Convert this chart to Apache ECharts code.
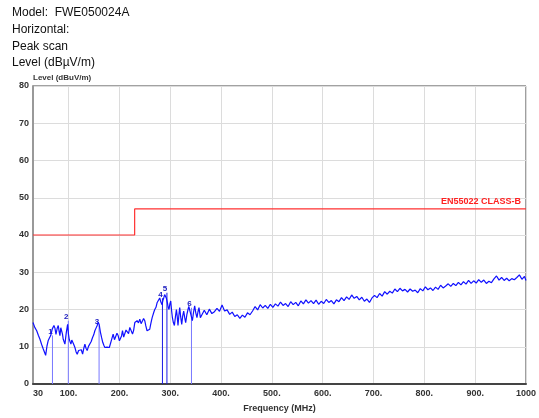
<!DOCTYPE html>
<html><head><meta charset="utf-8">
<script src="https://cdn.jsdelivr.net/npm/echarts@6/dist/echarts.min.js"></script>
<style>html,body{margin:0;padding:0;background:#fff}#c{width:539px;height:418px}</style>
</head><body><div id="c"></div>
<script>
// ---- data ----
const headerLines = ['Model:  FWE050024A', 'Horizontal:', 'Peak scan', 'Level (dBµV/m)'];
const xTickValues = [30, 100, 200, 300, 400, 500, 600, 700, 800, 900, 1000];
const traceFreq = [30,33.5,37.3,40.5,43.7,47,50.2,52.5,54.9,57.5,60,62.5,64.8,68,71.2,73.2,75.2,77.5,79.7,81.3,83,84.7,86.4,88,89.5,91,92.8,95.5,98.1,99.7,101.3,103,104.6,106.3,108,110.2,112.5,114.8,117,119.7,122.3,125,127.6,130,132.1,134.3,136.6,139.2,141.9,144.5,147.2,149.5,151.7,154,156.3,158.3,160.2,162.5,164.9,167.2,169.4,171.4,173.3,175.6,177.9,180.2,182.6,185.2,187.7,190.3,193,195.2,197.5,200,202.2,204.2,206.1,208.4,210.7,213,215.2,218,220.5,223,225.8,228,230.3,232.5,234.8,237.5,240.1,242.7,245.4,247.6,249.9,252,254.4,257,259.7,261.5,263.1,264.6,266.2,268,269.6,272,274.1,277,279.4,281.6,283.9,285.5,287.2,289,290.6,292.5,294.5,296,297.6,299.3,301,302.6,304.3,306.2,308.2,310.2,312.2,313.8,315.3,317,318.7,320.6,322.6,324.5,326.5,328.5,330.4,332.7,335,336.6,338.3,341,343.6,345.8,348.1,350.3,352.6,354.6,356.6,359.3,
362,367,372,377,382,387,392,397,402,407,412,417,422,427,432,437,442,447,452,457,462,467,472,477,482,487,492,497,502,507,512,517,522,527,532,537,542,547,552,557,562,567,572,577,582,587,592,597,602,607,612,617,622,627,632,637,642,647,652,657,662,667,672,677,682,687,692,697,702,707,712,717,722,727,732,737,742,747,752,757,762,767,772,777,782,787,792,797,802,807,812,817,822,827,832,837,842,847,852,857,862,867,872,877,882,887,892,897,902,907,912,917,922,927,932,937,942,947,952,957,962,967,972,977,982,987,992,997,1000];
const traceLevel = [16.5,15.2,14.3,13.1,12,10.6,9.4,8.9,7.7,10.2,11.7,12.4,13,14.8,15.7,15.0,13.3,14.9,15.7,14.2,13,15.1,14.7,13.4,12,11.5,10.7,13.8,16,13.5,12,11.3,10.7,11.8,12,10.6,9.8,8.6,8,9.0,8.5,9.2,8,9.6,10.7,9.6,9,10.1,9.8,11.4,12.5,13.2,14.3,15.0,15.7,16.6,16,14.0,12.5,11.2,10.4,9.8,9.4,9.9,9.4,9.8,10.3,12.2,13.4,11.9,12,13.6,13,11.6,11.2,12.9,14.3,12.6,13,14.5,14.3,13.5,15.2,15.6,13.4,14.4,16.5,16.1,17,16.4,17.4,16.2,16.5,17.6,17,15.6,14.3,14.0,14.7,16.0,17,17.9,18.3,19.4,20,20.6,21.8,21.9,23.1,22.0,21.3,22.4,23.1,24.0,24.5,23.0,21.8,20.6,20,21.5,22.3,19.8,17.8,16.5,15.7,18.0,20,18.1,15.7,18.4,20.5,18.0,16,18.2,19.6,17.8,16.5,18.6,20,20.8,20.5,18.4,17,19.2,21,19.1,17.8,19.4,20.5,17.8,
18.2,19.8,18.6,20.1,18.9,19.4,20.3,19.5,21.2,19.6,19.9,18.7,19.3,18.1,18.6,17.6,18.5,17.9,19.1,18.6,19.6,20.8,19.9,21.3,20.4,21.1,20.3,21.4,20.6,21.5,20.9,22.0,21.1,21.6,20.8,22.1,21.3,21.9,21.0,22.3,21.5,22.6,21.7,22.4,21.6,22.5,21.4,22.2,21.6,22.7,21.9,22.4,21.5,22.6,22.1,23.2,22.4,23.4,22.7,23.9,23.0,23.5,22.6,23.3,22.2,22.8,21.9,23.1,23.8,23.2,24.3,23.6,24.8,24.1,24.9,24.4,25.5,24.8,25.7,25.0,25.4,24.7,25.5,24.9,25.2,24.5,25.6,25.0,26.1,25.3,25.8,25.1,26.0,25.4,26.5,25.8,26.3,26.9,26.2,27.0,26.4,27.3,26.6,27.5,26.8,27.8,27.0,27.7,27.1,28.0,27.3,27.9,27.0,27.6,27.2,28.2,29.0,27.9,28.6,27.8,28.4,27.7,28.3,28.0,28.6,29.3,28.1,28.9,27.8];
const markerFreq = [68.3, 99.5, 160, 284.7, 293.5, 341.8];
const markerLevel = [13, 17, 15.7, 23, 24.5, 20.5];
const markerNames = ['1', '2', '3', '4', '5', '6'];
const limitFreq = [30, 230, 230, 1000];
const limitLevel = [40, 40, 47, 47];
const limitName = 'EN55022 CLASS-B';

// ---- chart ----
const zip = (a, b) => a.map((v, i) => [v, b[i]]);
const chart = echarts.init(document.getElementById('c'), null, {renderer: 'canvas'});
const lbl = {fontFamily: 'Liberation Sans, Arial, sans-serif', fontWeight: 'bold', fontSize: 9, color: '#333'};
const markerColors = ['#7878ff', '#7878ff', '#7878ff', '#1a1ae6', '#1a1ae6', '#7878ff'];
chart.setOption({
  animation: false,
  backgroundColor: '#fff',
  graphic: headerLines.map((t, i) => ({
    type: 'text', left: 12, top: 7 + i * 16.6,
    style: {text: t, font: '12px "Liberation Sans", Arial, sans-serif', fill: '#111'}
  })),
  grid: {left: 33, right: 12, top: 86, bottom: 31, show: true, borderColor: '#444', borderWidth: 1, backgroundColor: '#fff'},
  xAxis: {
    type: 'value', min: 30, max: 1000,
    name: 'Frequency (MHz)', nameLocation: 'middle', nameGap: 20,
    nameTextStyle: Object.assign({}, lbl, {fontSize: 9}),
    axisLine: {show: true, lineStyle: {color: '#444', width: 2}},
    axisTick: {show: false, customValues: xTickValues},
    axisLabel: Object.assign({}, lbl, {customValues: xTickValues, margin: 5,
      formatter: v => (v === 30 || v === 1000) ? String(v) : v + '.',
      alignMinLabel: 'left', alignMaxLabel: 'center'}),
    splitLine: {show: true, lineStyle: {color: '#dcdcdc', width: 1}}
  },
  yAxis: {
    type: 'value', min: 0, max: 80, interval: 10,
    name: 'Level (dBuV/m)', nameLocation: 'end', nameGap: 3,
    nameTextStyle: Object.assign({}, lbl, {align: 'left', fontSize: 8}),
    axisLine: {show: true, lineStyle: {color: '#999', width: 2}},
    axisTick: {show: false},
    axisLabel: Object.assign({}, lbl, {margin: 4}),
    splitLine: {show: true, lineStyle: {color: '#dcdcdc', width: 1}}
  },
  series: [
    {
      type: 'line', name: limitName, data: zip(limitFreq, limitLevel), symbol: 'none',
      lineStyle: {color: '#ff3030', width: 1.2}, z: 3,
      markPoint: {
        symbol: 'circle', symbolSize: 0,
        data: [{coord: [1000, 47], value: limitName}],
        label: {show: true, position: 'left', offset: [0, -7], formatter: limitName,
          color: '#ff2020', fontWeight: 'bold', fontSize: 9, fontFamily: 'Liberation Sans, Arial, sans-serif'}
      }
    },
    {
      type: 'bar', data: markerFreq.map((f, i) => ({value: [f, markerLevel[i]], itemStyle: {color: markerColors[i]}})),
      barWidth: 1, z: 2,
      label: {show: true, position: 'top', distance: 0, offset: [-2, 0],
        formatter: p => markerNames[p.dataIndex],
        color: '#2020c0', fontWeight: 'bold', fontSize: 8, fontFamily: 'Liberation Sans, Arial, sans-serif'}
    },
    {
      type: 'line', data: zip(traceFreq, traceLevel), symbol: 'none',
      lineStyle: {color: '#1010ff', width: 1.2}, z: 4
    }
  ]
});
</script></body></html>
